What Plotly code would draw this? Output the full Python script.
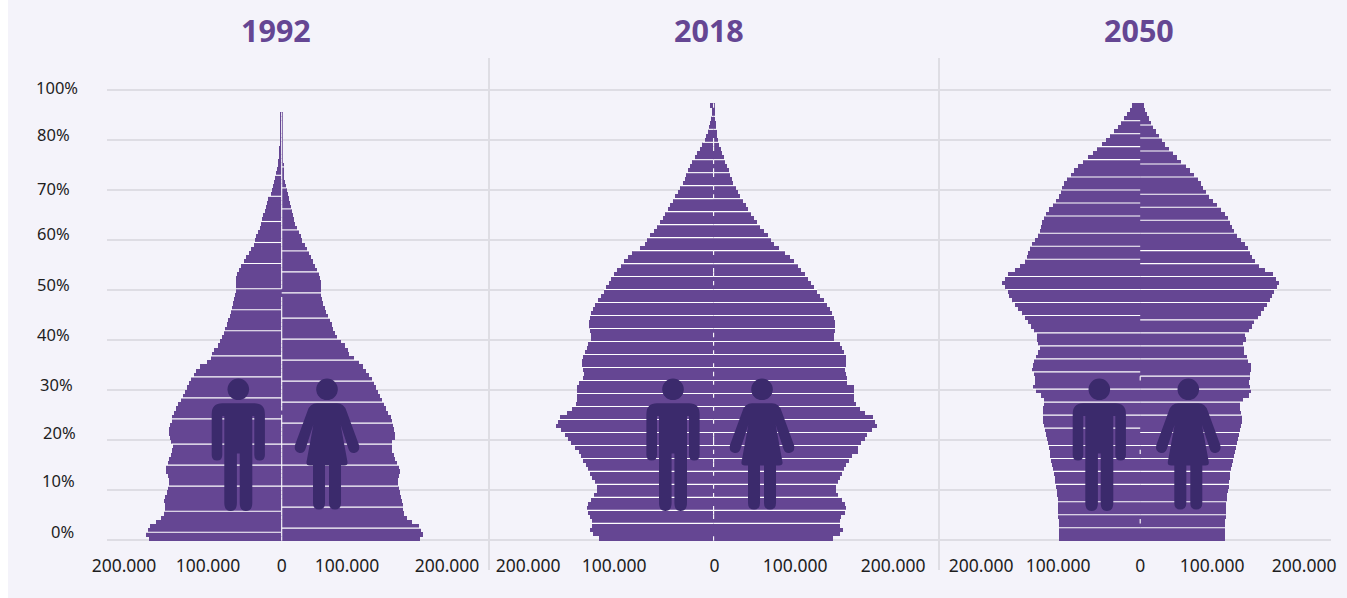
import plotly.graph_objects as go

W, H = 1347, 598
BG = "#F4F3FA"
BAR = "#654693"
ICON = "#3B2A6C"
GRID = "#DEDDE4"
SEP = "#C9C8CE"
TXT = "#1E1E1E"
FONT = "Noto Sans"

years = ["1992", "2018", "2050"]
title_x = [276, 709, 1139]

# population per single-year age band, in axis units (83 units = 100.000 people)
men_1992 = [132.7,135.7,133.7,131.7,125.7,120.7,117.7,116.7,116.7,117.7,116.7,115,114,113,113,114,115.7,115.7,114,113,
            110.3,109.3,109,110.3,112,112.7,112.7,111.7,109.7,109.7,107.3,105.7,103.7,100.7,98.7,96.7,94.7,92.7,90.7,87.7,
            85.7,81.7,74.7,70.7,69.7,67.7,63.7,61.7,59.7,57.7,56.7,54.7,53.7,51.7,50.7,49.3,48.3,47.3,46.3,45.7,
            45.7,45.7,45.7,44.7,42.7,40.7,37.7,35.7,32.7,30.7,27.7,26.7,25.7,23.7,21.7,20.7,19.3,18.3,16.7,15.7,
            14.7,13.7,11,10,9,8,7,5.7,4.7,3.7,3.3,3,2.7,2.3,1.7,1.3,1.2,1.2,1.2,1.2,1.3,1.3]
women_1992 = [138.3,141.3,139.3,137.3,130.3,125.3,122.3,121.3,121.3,120.3,119.3,118.3,117,116.3,116.3,117.3,118.3,117.3,115.3,113.3,
              112.3,110.7,110.3,110.7,113.3,113.3,112.3,111.7,110.3,109.3,106.7,104.3,102.3,100.3,98.3,96.3,94.3,92.3,90,87.3,
              84.3,81.3,77.3,72.3,67.3,66.3,63.3,59.3,55.3,53.3,51.7,50.3,48.3,46.3,44.3,43.3,41.7,40.7,39.7,39.3,
              39.3,39.3,38.3,37.7,35.7,33.3,31.3,29.3,27.3,25.3,23.3,20.7,19,17.3,15.3,13.3,12.3,11.3,10,9,
              8.3,7,6,5,4.3,3.3,2.7,2.3,2.3,2,1.7,1.7,1.7,1.7,1.7,1.7,1.7,1.7,1.7,1.7,1.7,1.7]
men_2018 = [114.7,120.7,123.7,121.7,121.7,123.7,125.7,126.7,126,122.7,119.7,116.7,116.7,118.7,121.7,123.7,125.7,127.7,130.7,132.7,
            134.7,138.7,142.7,145.7,148.7,152.7,157.7,155.7,153.7,146.7,141.7,137.7,136.7,136.7,136.7,136.3,134.7,130.7,129.7,130.7,
            131.7,131.7,130.7,128.7,126.7,125.3,122.3,122.3,123.3,124.3,124.3,123.3,122.3,120.3,118.3,115.3,112.3,109.3,107.3,104.3,
            102.3,99.3,96.3,92.3,89.3,85.3,81.3,73.3,68.3,66.3,63.3,59.3,56.3,53.3,50.3,48.3,45.3,43.3,40.3,38.3,
            35.3,33.3,30.3,28.3,27.3,25.3,23.3,21.3,18.3,16.3,13.3,11.3,8.3,7.3,5.3,4.3,3.3,2.3,1.3,1.3,3.3]
women_2018 = [119.3,126.3,129.3,126.7,126.7,127.3,131.3,132.3,131.7,128.3,124.3,122.3,122.3,124.3,126.3,128.3,130.3,132.3,135.3,138.3,
              144.3,144.3,147.7,151.3,153.3,158.3,163.3,161.3,159.3,151.3,146.3,142.3,140.3,140.3,140.3,140.3,133.3,133.3,132.3,131.3,
              132.3,132.3,132.3,130.3,128.3,126.7,120.7,120.7,121.7,121.7,121.7,120.7,118.7,116.7,113.7,110.7,106.7,103.7,100.7,97.7,
              94.7,91.7,87.7,84.7,80.7,76.7,71.7,65.7,60.7,57.7,54.7,50.7,46.7,43.7,40.7,37.7,34.7,32.7,29.7,26.7,
              24.7,22.7,19.7,18.7,16.7,15.7,13.7,11.7,10.7,8.7,7.7,5.7,4.7,3.7,3.7,2.7,2.7,1.7,1.7,1.7,1.7]
men_2050 = [81.3,81.3,81.3,81.3,81.7,82,82.3,82.3,82.3,82.7,83,83.7,84.3,85.3,85.7,86.3,87.3,88.3,89.3,90.3,
            90.3,91,92.3,93.3,94.3,95.3,96.3,97.3,97.3,97.3,97,96.3,96.3,99.3,104.3,107.3,105.3,105.3,106.3,108.3,
            107.3,106.3,104.3,102.3,100.3,102,103,103,106,109,112,115,118,122,125,128,131,132,135,138,
            135,132,125,120,115,113,112,110,108,105,102,100,99,98,96,94,91,87,84,81,
            79,78,76,73,69,66,62,57,52,47,43,38,34,30,26,22,19,16,13,10,8]
women_2050 = [84.7,84.7,84.7,85,85,85.7,85.7,85.7,85.7,86.7,87,87.3,88.3,89,89.3,89.7,90.7,91.7,92.7,93.7,
              94.7,95.7,96.7,97.7,98.7,99.7,100.7,101.7,101.7,100.7,99.7,99.7,102.7,108.7,110.7,109.7,108.7,109.7,109.7,110.3,
              111,107.7,106.7,103.7,103.7,103,106,105,109,112,114,118,121,124,127,130,132,134,137,139,
              136,133,125,119,115,112,110,108,105,101,97,94,92,90,88,85,81,77,73,69,
              66,63,61,58,54,50,46,41,37,33,29,25,22,19,16,13,11,9,7,5,4]

# rows after which a thin white rule separates the bands
rules_m_1992 = [2,7,13,18,23,29,34,39,44,50,55,60,66,71,76,82,87]
rules_w_1992 = [3,8,13,18,23,28,33,38,43,48,53,59,64,69,74,79,84,89]
rules_2018 = [4,7,10,13,16,19,22,25,28,31,34,37,40,43,46,49,52,55,58,61,64,67,70,73,76,79,82,85,88,92,95,98]
rules_m_2050 = [3,6,9,13,16,19,22,26,29,32,35,39,42,45,48,52,55,58,61,65,68,71,75,78,81,84,88,91,94,97]
rules_w_2050 = [3,6,9,13,16,19,22,25,29,32,35,38,42,45,48,51,55,58,61,64,67,71,74,77,80,84,87,90,93,96]

# age rows where the white centre seam is visible
seam_1992 = [k for k in range(102) if k not in (30, 58, 59)]
seam_2018 = [0,5,6,7,10,12,15,17,18,20,22,23,24,27,30,33,36,38,40,43,45,47,59,61,62,66,75,79,81,84,85,87,90,91,92,100]
seam_2050 = [4,20,37]

x_tick_vals = [[-157.7,-73.7,0,65.3,165.3], [-185.5,-99.5,1,81.5,179.5], [-159,-82,0,72,164]]
x_tick_text = ["200.000","100.000","0","100.000","200.000"]

y_labels = ["100%","80%","70%","60%","50%","40%","30%","20%","10%","0%"]
y_label_x = [34,35,35,35,35,35,38,41,40,49]
y_label_y = [87,135,188,234,284,334,384,432,480,531]
grid_levels = list(range(10))

TOP, BOTTOM = 58, 553
panels = [
    dict(left=107, right=489, zero=281.7, step=4.2, men=men_1992, women=women_1992, rm=rules_m_1992, rw=rules_w_1992, seam=seam_1992, base=540.7),
    dict(left=489, right=939, zero=713.6, step=4.33, men=men_2018, women=women_2018, rm=rules_2018, rw=rules_2018, seam=seam_2018, base=540.7),
    dict(left=939, right=1331, zero=1140.2, step=4.33, men=men_2050, women=women_2050, rm=rules_m_2050, rw=rules_w_2050, seam=seam_2050, base=540.7),
]

def px(x): return x / W
def py(y): return 1 - y / H

fig = go.Figure()

# background grid axis (first subplot, drawn beneath the pyramids)
fig.add_trace(go.Scatter(x=[0], y=[0], mode="markers", marker=dict(opacity=0), hoverinfo="skip", showlegend=False, xaxis="x", yaxis="y"))
layout = dict(
    xaxis=dict(domain=[px(107), px(1331)], range=[0, 1], visible=False, anchor="y"),
    yaxis=dict(domain=[py(BOTTOM), py(TOP)], range=[(540 - BOTTOM) / 50, (540 - TOP) / 50], tickvals=grid_levels,
               showticklabels=False, showgrid=True, gridcolor=GRID, gridwidth=1.6, zeroline=False, showline=False, ticks="", anchor="x"),
)

for n, p in enumerate(panels):
    ax = str(n + 2)
    ks = [k + 0.5 for k in range(len(p["men"]))]
    fig.add_trace(go.Bar(y=ks, x=[-v for v in p["men"]], orientation="h", width=1, marker=dict(color=BAR, line=dict(width=0)),
                         hoverinfo="skip", showlegend=False, xaxis="x" + ax, yaxis="y" + ax))
    fig.add_trace(go.Bar(y=ks, x=p["women"], orientation="h", width=1, marker=dict(color=BAR, line=dict(width=0)),
                         hoverinfo="skip", showlegend=False, xaxis="x" + ax, yaxis="y" + ax))
    # white band rules, each as long as the bars it separates
    rx, ry = [], []
    for b in p["rm"]:
        rx += [0, -max(p["men"][b - 1], p["men"][b]), None]; ry += [b, b, None]
    for b in p["rw"]:
        rx += [0, max(p["women"][b - 1], p["women"][b]), None]; ry += [b, b, None]
    fig.add_trace(go.Scatter(x=rx, y=ry, mode="lines", line=dict(color="white", width=1.1), hoverinfo="skip", showlegend=False,
                             xaxis="x" + ax, yaxis="y" + ax))
    sx, sy = [], []
    for k in p["seam"]:
        sx += [0, 0, None]; sy += [k, k + 1, None]
    fig.add_trace(go.Scatter(x=sx, y=sy, mode="lines", line=dict(color="white", width=1.1), hoverinfo="skip", showlegend=False,
                             xaxis="x" + ax, yaxis="y" + ax))
    layout["xaxis" + ax] = dict(domain=[px(p["left"]), px(p["right"])], range=[p["left"] - p["zero"], p["right"] - p["zero"]],
                                tickvals=x_tick_vals[n], ticktext=x_tick_text, tickangle=0, showgrid=False, zeroline=False, showline=False,
                                ticks="", tickfont=dict(family=FONT, size=17.5, color=TXT), anchor="y" + ax)
    layout["yaxis" + ax] = dict(domain=[py(BOTTOM), py(TOP)],
                                range=[(p["base"] - BOTTOM) / p["step"], (p["base"] - TOP) / p["step"]],
                                visible=False, anchor="x" + ax)

# ---- decoration: white page strip, separators, pictograms ----
shapes = [dict(type="rect", xref="paper", yref="paper", x0=0, x1=px(8), y0=0, y1=1, fillcolor="white", line=dict(width=0), layer="below")]
for sx_ in (489, 939):
    shapes.append(dict(type="line", xref="paper", yref="paper", x0=px(sx_), x1=px(sx_), y0=py(570), y1=py(TOP),
                       line=dict(color=SEP, width=1), layer="below"))

def path(cx, cmds):
    out = []
    for c in cmds:
        if isinstance(c, str):
            out.append(c)
        else:
            out.append(f"{px(cx + c[0]):.5f},{py(c[1]):.5f}")
    return " ".join(out)

MAN = ["M",(-16,403.3),"L",(16,403.3),"Q",(26.6,403.3),(26.6,414),"L",(26.6,455),"Q",(26.6,460.5),(21.3,460.5),"Q",(16,460.5),(16,455),
       "L",(16,416),"L",(14,416),"L",(14,503),"Q",(14,511),(7.6,511),"Q",(1.4,511),(1.4,503),"L",(1.4,453.5),"L",(-1.4,453.5),"L",(-1.4,503),
       "Q",(-1.4,511),(-7.6,511),"Q",(-14,511),(-14,503),"L",(-14,416),"L",(-16,416),"L",(-16,455),"Q",(-16,460.5),(-21.3,460.5),
       "Q",(-26.6,460.5),(-26.6,455),"L",(-26.6,414),"Q",(-26.6,403.3),(-16,403.3),"Z"]
WOMAN = ["M",(-10,403.3),"L",(10,403.3),"Q",(17,403.3),(19.5,411),"L",(32,445),"Q",(33.5,452),(27.5,453),"Q",(23,453.5),(21.5,449),
         "L",(13.7,425),"L",(20.5,462),"Q",(21,465.5),(17,465.5),"L",(14,465.5),"L",(14,503),"Q",(14,509.5),(8,509.5),"Q",(2,509.5),(2,503),
         "L",(2,465.5),"L",(-2,465.5),"L",(-2,503),"Q",(-2,509.5),(-8,509.5),"Q",(-14,509.5),(-14,503),"L",(-14,465.5),"L",(-17,465.5),
         "Q",(-21,465.5),(-20.5,462),"L",(-13.7,425),"L",(-21.5,449),"Q",(-23,453.5),(-27.5,453),"Q",(-33.5,452),(-32,445),
         "L",(-19.5,411),"Q",(-17,403.3),(-10,403.3),"Z"]

for man_x, woman_x in [(238.3, 327), (673, 762), (1099.3, 1188.3)]:
    for cx, outline in ((man_x, MAN), (woman_x, WOMAN)):
        shapes.append(dict(type="path", xref="paper", yref="paper", path=path(cx, outline), fillcolor=ICON, line=dict(width=0)))
        shapes.append(dict(type="circle", xref="paper", yref="paper", x0=px(cx - 10.8), x1=px(cx + 10.8), y0=py(400.1), y1=py(378.5),
                           fillcolor=ICON, line=dict(width=0)))

annotations = []
for t, x in zip(years, title_x):
    annotations.append(dict(text=t, xref="paper", yref="paper", x=px(x), y=py(30), xanchor="center", yanchor="middle", showarrow=False,
                            font=dict(family=FONT, size=30.5, color=BAR, weight=700)))
for t, x, y in zip(y_labels, y_label_x, y_label_y):
    annotations.append(dict(text=t, xref="paper", yref="paper", x=px(x), y=py(y), xanchor="left", yanchor="middle", showarrow=False,
                            font=dict(family=FONT, size=16.5, color=TXT)))

fig.update_layout(width=W, height=H, margin=dict(l=0, r=0, t=0, b=0, autoexpand=False), autosize=False, paper_bgcolor=BG,
                  plot_bgcolor="rgba(0,0,0,0)", barmode="overlay", bargap=0, showlegend=False, shapes=shapes, annotations=annotations, **layout)

fig.write_html("out.html", config=dict(displayModeBar=False), post_script="document.body.style.margin='0';")
